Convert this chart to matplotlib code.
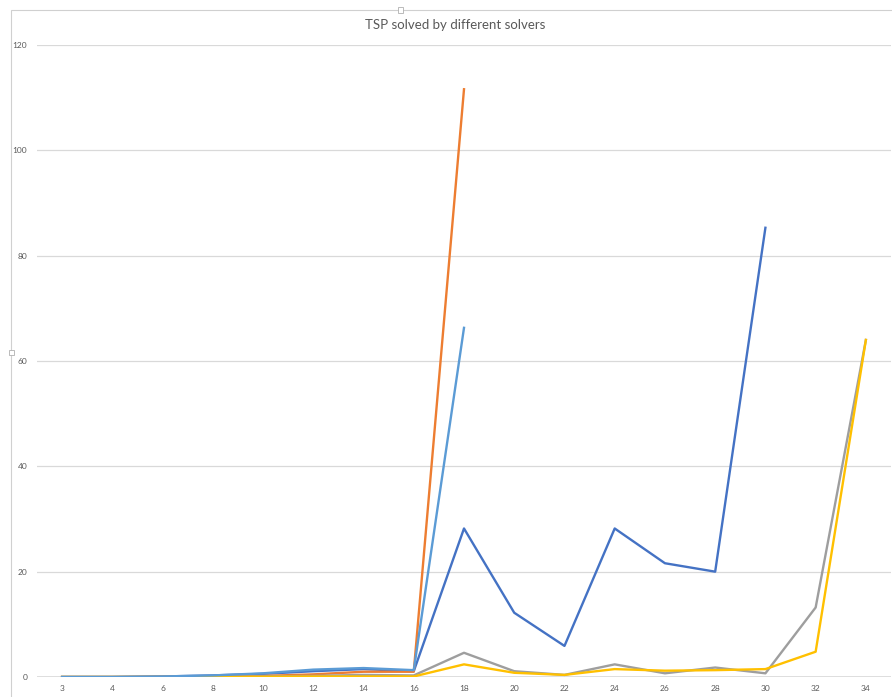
"""
TSP solved by different solvers - line chart in Excel style.
"""
import numpy as np
import matplotlib
matplotlib.use("Agg")
import matplotlib.pyplot as plt
from matplotlib.patches import Rectangle

# Data
cities = ["3", "4", "6", "8", "10", "12", "14", "16", "18",
          "20", "22", "24", "26", "28", "30", "32", "34"]
nan = np.nan
solver_blue = [0, 0, 0.1, 0.3, 0.6, 1.1, 1.5, 1.1, 28.2,
               12.2, 5.9, 28.2, 21.6, 20.0, 85.3, nan, nan]
solver_orange = [0, 0, 0.05, 0.1, 0.2, 0.5, 1.0, 1.0, 111.6,
                 nan, nan, nan, nan, nan, nan, nan, nan]
solver_gray = [0, 0, 0, 0.05, 0.1, 0.2, 0.4, 0.3, 4.6,
               1.1, 0.4, 2.4, 0.7, 1.8, 0.7, 13.2, 64.0]
solver_yellow = [0, 0, 0, 0, 0.05, 0.1, 0.1, 0.1, 2.4,
                 0.8, 0.4, 1.5, 1.2, 1.3, 1.5, 4.8, 64.0]
solver_lightblue = [0, 0, 0.1, 0.3, 0.7, 1.4, 1.7, 1.3, 66.3,
                    nan, nan, nan, nan, nan, nan, nan, nan]

series = [
    (solver_blue, "#4472C4"),
    (solver_orange, "#ED7D31"),
    (solver_gray, "#9E9E9E"),
    (solver_yellow, "#FFC000"),
    (solver_lightblue, "#5B9BD5"),
]

plt.rcParams["font.family"] = ["Lato", "DejaVu Sans"]

W, H = 892, 697
fig = plt.figure(figsize=(W / 100, H / 100), dpi=100)

# chart area border (cropped on right and bottom like the screenshot)
fig.patches.append(Rectangle((11 / W, -0.05), 1.0, (H - 10) / H + 0.05,
                             transform=fig.transFigure, fill=False,
                             edgecolor="#D0D0D0", linewidth=0.8))
# selection handles
for hx, hy in [(400, 10), (11, 352)]:
    fig.patches.append(Rectangle(((hx - 2.5) / W, (H - hy - 2.5) / H), 5 / W, 5 / H,
                                 transform=fig.transFigure, facecolor="white",
                                 edgecolor="#B0B0B0", linewidth=0.6))

ax = fig.add_axes([37 / W, (H - 677) / H, (891 - 37) / W, (677 - 45) / H])
x = np.arange(len(cities))

for vals, color in series:
    ax.plot(x, vals, color=color, linewidth=1.7, solid_joinstyle="round")

ax.set_xlim(-0.5, len(cities) - 0.5)
ax.set_ylim(0, 120)
ax.set_yticks(range(0, 121, 20))
ax.set_xticks(x)
ax.set_xticklabels(cities)

for s in ax.spines.values():
    s.set_visible(False)
ax.grid(axis="y", color="#D9D9D9", linewidth=0.9)
ax.set_axisbelow(True)
ax.axhline(0, color="#D9D9D9", linewidth=1.2, zorder=0)
ax.tick_params(length=0, labelsize=6, labelcolor="#595959")
ax.tick_params(axis="y", pad=7)
ax.tick_params(axis="x", pad=6)

fig.text(455 / W, (H - 25) / H, "TSP solved by different solvers",
         ha="center", va="center", fontsize=9.5, color="#595959")

fig.savefig("out.png", dpi=100)
